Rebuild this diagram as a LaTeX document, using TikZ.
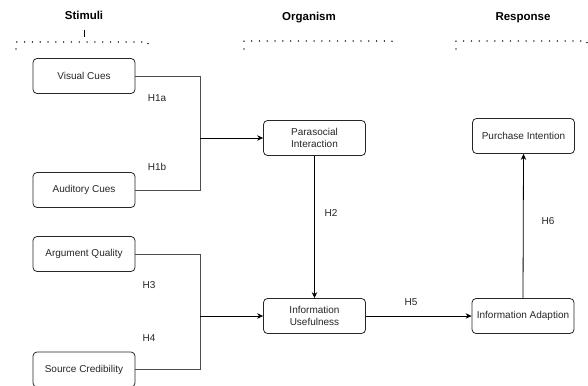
\documentclass[tikz,border=0pt]{standalone}
\usepackage{fontspec}
\setmainfont{Liberation Sans}
\usetikzlibrary{arrows.meta}
\begin{document}
\begin{tikzpicture}[x=1pt,y=-1pt,
  box/.style={draw=black!85,line width=0.8pt,rounded corners=4pt,minimum width=102pt,minimum height=35pt,align=center,font=\fontsize{10}{11.5}\selectfont,text=black!85,inner sep=1pt},
  hlab/.style={font=\fontsize{10}{12}\selectfont,text=black!85,inner sep=0pt},
  head/.style={font=\bfseries\fontsize{11.5}{13}\selectfont,inner sep=0pt},
  conn/.style={draw=black!70,line width=0.8pt},
  arr/.style={draw=black,line width=0.8pt,-{Stealth[length=6pt,width=5.5pt]}},
  brace/.style={draw=black!80,line width=1.5pt,dash pattern=on 0.01pt off 7.8pt,line cap=round}
]
\useasboundingbox[fill=white] (0,0) rectangle (588,385);

% headings
\node[head] (hS) at (84,15) {Stimuli};
\node[head] (hO) at (309,18) {Organism};
\node[head] (hR) at (523,18) {Response};
\coordinate (tS1) at (84,30);
\coordinate (tS2) at (84,37);
\draw[line width=0.8pt] (tS1) -- (tS2);

% braces
\coordinate (bS1) at (16,49); \coordinate (bS2) at (16,42); \coordinate (bS3) at (148,42); \coordinate (bS4) at (148,49);
\draw[brace] (bS1) -- (bS2) -- (bS3) -- (bS4);
\coordinate (bO1) at (244,49); \coordinate (bO2) at (244,41); \coordinate (bO3) at (392,41); \coordinate (bO4) at (392,49);
\draw[brace] (bO1) -- (bO2) -- (bO3) -- (bO4);
\coordinate (bR1) at (456,49); \coordinate (bR2) at (456,41); \coordinate (bR3) at (587,41); \coordinate (bR4) at (587,49);
\draw[brace] (bR1) -- (bR2) -- (bR3) -- (bR4);

% boxes
\node[box] (vc) at (84,76) {Visual Cues};
\node[box] (ac) at (84,190) {Auditory Cues};
\node[box] (aq) at (84,254) {Argument Quality};
\node[box] (sc) at (84,369.5) {Source Credibility};
\node[box] (pi) at (314.5,138) {Parasocial\\Interaction};
\node[box] (iu) at (314.5,316) {Information\\Usefulness};
\node[box] (ia) at (523,316) {Information Adaption};
\node[box] (pu) at (523.5,136) {Purchase Intention};

% junctions
\coordinate (j1) at (200,138);
\coordinate (j2) at (200,316);

\draw[conn] (vc.east) -| (j1);
\draw[conn] (ac.east) -| (j1);
\draw[arr] (j1) -- (pi.west);
\draw[conn] (aq.east) -| (j2);
\draw[conn] (sc.east) -| (j2);
\draw[arr] (j2) -- (iu.west);
\draw[arr] (pi.south) -- (iu.north);
\draw[arr] (iu.east) -- (ia.west);
\draw[arr] (ia.north) -- (pu.south);

% labels
\node[hlab] (h1a) at (157,98) {H1a};
\node[hlab] (h1b) at (157,167) {H1b};
\node[hlab] (h3) at (149,285) {H3};
\node[hlab] (h4) at (149,338) {H4};
\node[hlab] (h2) at (331,213) {H2};
\node[hlab] (h5) at (411,302) {H5};
\node[hlab] (h6) at (548,221) {H6};
\end{tikzpicture}
\end{document}
